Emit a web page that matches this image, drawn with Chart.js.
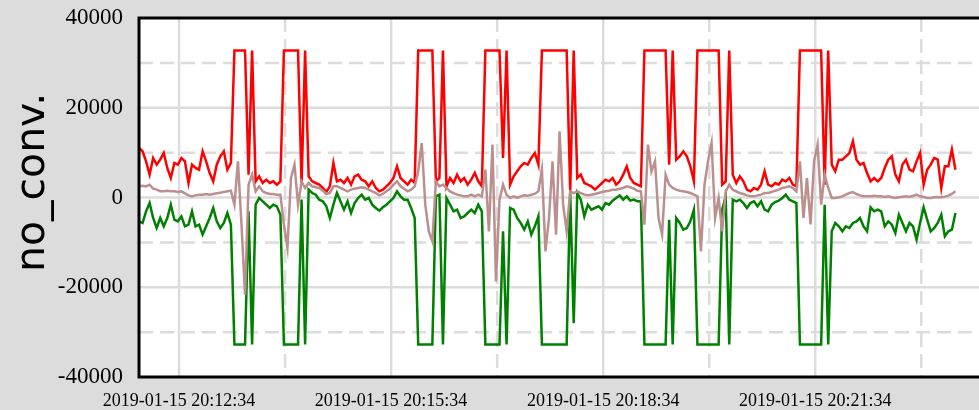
<!DOCTYPE html>
<html>
<head>
<meta charset="utf-8">
<script src="https://cdn.jsdelivr.net/npm/chart.js@4.4.1/dist/chart.umd.min.js"></script>
<style>
  html, body { margin: 0; padding: 0; background: #dcdcdc; overflow: hidden; }
  #chart { display: block; }
</style>
</head>
<body>
<canvas id="chart" width="979" height="410"></canvas>
<script>
// --------------------- Data -------------------
// one sample every 3 s, starting at 20:12:00
const startDate = '2019-01-15';
const startClock = [20, 12, 0];
const sampleStep = 3;
const yTitle = 'no_conv.';

const maxValues = [
    11030, 10290, 8060, 5090, 8800, 7320, 8430, 9920, 6580, 4350,
    7690, 7320, 8800, 8060, 3230, 7320, 6580, 6200, 10290, 8060,
    5460, 3600, 7320, 9180, 10290, 6200, 7690, 32767, 32767, 32767,
    32767, 5090, 32767, 3600, 4720, 3230, 3970, 3230, 3600, 2860,
    3600, 32767, 32767, 32767, 32767, 32767, 2860, 32767, 4720, 3600,
    3230, 2860, 2120, 1230, 2490, 7690, 3600, 3970, 3230, 4350,
    2860, 4720, 5090, 3970, 3600, 2490, 3600, 2120, 1370, 1750,
    2490, 3230, 4350, 6950, 4350, 3600, 2860, 3970, 3230, 32767,
    32767, 32767, 32767, 32767, 3600, 4350, 32767, 2490, 4350, 3230,
    5090, 3600, 4350, 2860, 3970, 5460, 3600, 2490, 32767, 32767,
    32767, 32767, 32767, 8800, 32767, 2860, 4720, 5830, 6950, 7690,
    7320, 8800, 9920, 7320, 32767, 32767, 32767, 32767, 32767, 32767,
    32767, 32767, 1370, 32767, 4350, 5090, 3230, 2860, 2490, 1750,
    2490, 3230, 3970, 3600, 4350, 2860, 3600, 5090, 6950, 4350,
    3230, 2860, 2490, 32767, 32767, 32767, 32767, 32767, 32767, 32767,
    7320, 32767, 8430, 9180, 10290, 9180, 6950, 3600, 32767, 32767,
    32767, 32767, 32767, 32767, 32767, 2860, 3600, 32767, 5090, 3230,
    4720, 3600, 1750, 1370, 2120, 1750, 2860, 5830, 2860, 2490,
    3230, 2860, 3970, 3600, 4350, 2860, 2490, 32767, 32767, 32767,
    32767, 32767, 32767, 32767, 2860, 32767, 7320, 5830, 8430, 8430,
    9180, 9920, 12520, 8430, 7320, 7690, 5460, 3600, 4350, 3600,
    4350, 6580, 8430, 9180, 5090, 3600, 7320, 8430, 6200, 5830,
    8060, 9920, 2860, 6200, 7320, 8800, 8430, 2120, 6950, 6950,
    10660, 6200
];

const meanValues = [
    2490, 2640, 2490, 2860, 1970, 1750, 1370, 1370, 1520, 1370,
    1370, 1230, 1370, 930, 480, 260, 480, 630, 630, 780,
    630, 780, 930, 1080, 1230, 1370, 1520, -1600, 8060, -6060,
    -21660, 2860, 5090, 1370, 2490, 1370, 1000, 780, 780, 630,
    630, -6060, -11260, 4350, 7320, -1600, 3600, 2120, 3230, 2490,
    2270, 2120, 1520, 780, 1000, 2490, 2490, 2120, 1750, 1370,
    1750, 1970, 2120, 2270, 2120, 1750, 1370, 1000, 480, 780,
    1370, 1970, 2860, 3600, 2490, 1970, 1370, 1750, 2490, 5830,
    12150, -1600, -7540, -9770, 3600, 2490, 2860, 2120, 1370, 1000,
    630, 480, 260, 260, 630, 260, 630, 260, 6200, -7540,
    11780, -18690, -480, 2860, 630, -110, 260, -110, 260, 480,
    410, 630, 850, 1370, 6200, -12000, -4570, 8060, -8280, 14750,
    -1600, -7540, 1370, 1000, 1370, 1000, 630, 480, 630, 780,
    1000, 1230, 1370, 1520, 1750, 1750, 1970, 2120, 2490, 2270,
    1970, 1500, 1370, -6060, 11780, 5830, 8060, -4570, -8280, 5090,
    2860, 2120, 1750, 1520, 1370, 1230, 1000, 630, 260, -12000,
    2860, 8060, 12150, -4570, -110, -7540, 1370, 2860, 1750, 1370,
    1000, 780, 480, 260, 260, 480, 630, 1000, 1000, 1230,
    1520, 1750, 2120, 2270, 2490, 2120, 1370, 8060, -4570, 4350,
    -6000, 8060, 11780, -1600, 5090, 2120, -110, -110, 40, 260,
    630, 1000, 1230, 780, 480, 260, 260, 260, 410, 260,
    260, 110, 260, 40, -110, 40, 190, 260, 190, 330,
    630, 260, 110, -110, -110, 40, 110, 40, 190, 410,
    780, 1370
];

const minValues = [
    -5310, -5680, -3080, -1230, -4570, -6800, -4570, -6430, -4570, -1600,
    -4940, -5310, -4200, -6430, -6060, -3080, -6430, -6060, -8280, -6430,
    -4570, -2340, -5310, -6800, -5680, -3460, -6060, -32767, -32767, -32767,
    -32767, -3080, -32767, -1600, -110, -850, -1600, -2340, -1600, -1970,
    -3830, -32767, -32767, -32767, -32767, -32767, -480, -32767, 1750, 1000,
    630, -480, -850, -1970, -4570, -1600, 1000, -850, -2710, -850,
    -3460, -1230, -110, 630, -480, -110, -1600, -2340, -2930, -2190,
    -1600, -850, -110, 1370, 260, -480, -480, -2340, -4570, -32767,
    -32767, -32767, -32767, -32767, 260, 630, -32767, -110, -1600, -3080,
    -2710, -4570, -4200, -3460, -2710, -3460, -1600, -3080, -32767, -32767,
    -32767, -32767, -32767, -7540, -32767, -2340, -2710, -4570, -5680, -7170,
    -5310, -8280, -6430, -4200, -32767, -32767, -32767, -32767, -32767, -32767,
    -32767, -32767, 1000, -28000, 1000, -480, -4200, -1600, -2710, -2340,
    -1970, -2710, -1230, -1600, -700, -110, 480, -480, 260, -700,
    -480, -850, -850, -32767, -32767, -32767, -32767, -32767, -32767, -32767,
    -4940, -32767, -4570, -5680, -7170, -6800, -5310, -2710, -32767, -32767,
    -32767, -32767, -32767, -32767, -32767, -2710, 260, -32767, -480, -850,
    -480, -1230, -2340, -1230, -850, -1970, -850, -2710, -3080, -1600,
    -1000, -700, -110, 630, -480, -850, -1230, -32767, -32767, -32767,
    -32767, -32767, -32767, -32767, -1600, -32767, -7540, -5680, -6430, -7540,
    -6430, -6800, -5680, -5310, -4570, -6430, -7540, -2190, -3080, -2710,
    -3080, -6430, -5310, -6060, -7910, -3830, -5680, -7540, -5680, -6430,
    -9400, -5680, -2190, -4940, -7540, -6800, -5680, -3830, -8660, -7540,
    -7170, -3460
];

// axis ticks (x in seconds after 20:12:00)
const xLabelSecs = [34, 214, 394, 574];
const xGridSecs = [34, 124, 214, 304, 394, 484, 574, 664];
const xRange = [0, 713];
const yLabelValues = [-40000, -20000, 0, 20000, 40000];
const yGridValues = [-30000, -20000, -10000, 0, 10000, 20000, 30000];

// --------------------- Helpers -------------------
function pad(n) {
    return String(n).padStart(2, '0');
}

function clockLabel(sec) {
    const total = startClock[0] * 3600 + startClock[1] * 60 + startClock[2] + sec;
    const hh = Math.floor(total / 3600);
    const mm = Math.floor((total % 3600) / 60);
    const ss = total % 60;
    return `${startDate} ${pad(hh)}:${pad(mm)}:${pad(ss)}`;
}

function toPoints(values) {
    return values.map((v, i) => ({ x: i * sampleStep, y: v }));
}

// --------------------- Background, grid, frame and axis title -------------------
const gridColor = '#dcdcdc';

const framePlugin = {
    id: 'frame',
    beforeDraw(chart) {
        const { ctx, chartArea: a } = chart;
        ctx.save();
        ctx.fillStyle = '#dcdcdc';
        ctx.fillRect(0, 0, chart.width, chart.height);
        ctx.fillStyle = '#ffffff';
        ctx.fillRect(a.left, a.top, a.right - a.left, a.bottom - a.top);
        ctx.restore();
    },
    beforeDatasetsDraw(chart) {
        const { ctx, chartArea: a, scales } = chart;
        ctx.save();
        ctx.strokeStyle = gridColor;
        ctx.lineWidth = 2.5;
        xGridSecs.forEach(v => {
            const px = scales.x.getPixelForValue(v);
            ctx.setLineDash(xLabelSecs.includes(v) ? [] : [14, 7]);
            ctx.beginPath();
            ctx.moveTo(px, a.top);
            ctx.lineTo(px, a.bottom);
            ctx.stroke();
        });
        yGridValues.forEach(v => {
            const py = scales.y.getPixelForValue(v);
            ctx.setLineDash(v % 20000 === 0 ? [] : [14, 7]);
            ctx.beginPath();
            ctx.moveTo(a.left, py);
            ctx.lineTo(a.right, py);
            ctx.stroke();
        });
        ctx.restore();
    },
    afterDatasetsDraw(chart) {
        const { ctx, chartArea: a } = chart;
        ctx.save();
        ctx.strokeStyle = '#000000';
        ctx.lineWidth = 3;
        ctx.beginPath();
        ctx.moveTo(chart.width, a.top);
        ctx.lineTo(a.left, a.top);
        ctx.lineTo(a.left, a.bottom);
        ctx.lineTo(chart.width, a.bottom);
        ctx.stroke();

        // rotated y-axis title, a bit above the plot centre like the original
        ctx.translate(33, a.top + (a.bottom - a.top) * 0.458);
        ctx.rotate(-Math.PI / 2);
        ctx.fillStyle = '#000000';
        ctx.font = '41px "DejaVu Sans"';
        ctx.textAlign = 'center';
        ctx.textBaseline = 'middle';
        ctx.fillText(yTitle, 0, 0);
        ctx.restore();
    }
};

// --------------------- Chart -------------------
const ctx = document.getElementById('chart').getContext('2d');
const chart = new Chart(ctx, {
    type: 'line',
    data: {
        datasets: [
            {
                label: 'mean',
                data: toPoints(meanValues),
                borderColor: '#bc8f8f',
                borderWidth: 2.5
            },
            {
                label: 'max',
                data: toPoints(maxValues),
                borderColor: '#ff0000',
                borderWidth: 2.5
            },
            {
                label: 'min',
                data: toPoints(minValues),
                borderColor: '#008000',
                borderWidth: 2.5
            }
        ]
    },
    options: {
        responsive: false,
        animation: false,
        devicePixelRatio: 1,
        layout: { padding: { top: 18, right: 0, bottom: 0, left: 0 } },
        elements: {
            point: { radius: 0 },
            line: { tension: 0, fill: false }
        },
        plugins: {
            legend: { display: false },
            tooltip: { enabled: false }
        },
        scales: {
            x: {
                type: 'linear',
                min: xRange[0],
                max: xRange[1],
                afterBuildTicks: scale => {
                    scale.ticks = xLabelSecs.map(v => ({ value: v }));
                },
                afterFit: scale => {
                    scale.height = 33;
                    scale.paddingLeft = 0;
                    scale.paddingRight = 0;
                },
                grid: { display: false, drawTicks: false },
                border: { display: false },
                ticks: {
                    autoSkip: false,
                    maxRotation: 0,
                    padding: 13,
                    color: '#000000',
                    font: { family: 'Liberation Serif', size: 18 },
                    callback: value => clockLabel(value)
                }
            },
            y: {
                min: -40000,
                max: 40000,
                afterBuildTicks: scale => {
                    scale.ticks = yLabelValues.map(v => ({ value: v }));
                },
                afterFit: scale => {
                    scale.width = 139;
                    scale.paddingTop = 0;
                    scale.paddingBottom = 0;
                },
                grid: { display: false, drawTicks: false },
                border: { display: false },
                ticks: {
                    padding: 16,
                    color: '#000000',
                    font: { family: 'Liberation Serif', size: 23 },
                    callback: value => String(value)
                }
            }
        }
    },
    plugins: [framePlugin]
});
</script>
</body>
</html>
